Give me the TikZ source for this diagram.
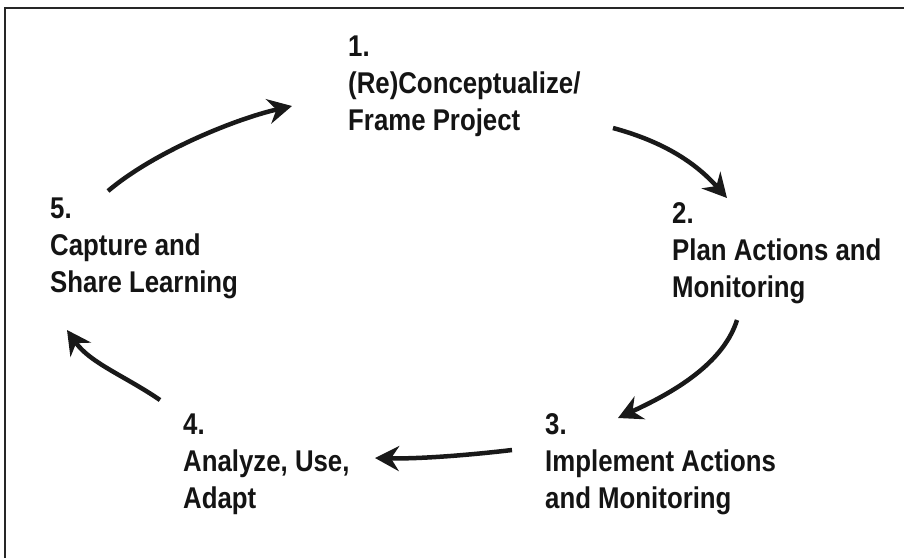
\documentclass[tikz,border=0pt]{standalone}
\usepackage{fontspec}
\newfontfamily\lblfont[FakeStretch=0.86]{Liberation Sans}
\usetikzlibrary{arrows.meta}
\begin{document}
\begin{tikzpicture}[x=1pt,y=-1pt,
  lbl/.style={anchor=base west,align=left,inner sep=0pt,text=black!92,
    font=\lblfont\bfseries\fontsize{30}{37}\selectfont},
  cyc/.style={line width=4.5pt,color=black!90,
    -{Stealth[length=24pt,width=25pt,inset=8pt]}},
  frame/.style={line width=1.6pt,color=black!85}]
\useasboundingbox (0,0) rectangle (904,558);
\draw[frame] (5,558) -- (5,8) -- (904,8);
% labels (anchored at the baseline of their last line)
\node[lbl] (s1) at (348,130) {1.\\(Re)Conceptualize/\\Frame Project};
\node[lbl] (s2) at (672,297) {2.\\Plan Actions and\\Monitoring};
\node[lbl] (s3) at (545,508) {3.\\Implement Actions\\and Monitoring};
\node[lbl] (s4) at (183,508) {4.\\Analyze, Use,\\Adapt};
\node[lbl] (s5) at (50,292) {5.\\Capture and\\Share Learning};
% arrow ends
\coordinate (a1s) at (108,191); \coordinate (a1e) at (292,106);
\coordinate (a2s) at (613,128); \coordinate (a2e) at (727,198);
\coordinate (a3s) at (737,320); \coordinate (a3e) at (618,418);
\coordinate (a4s) at (512,450); \coordinate (a4e) at (375,458);
\coordinate (a5s) at (160,400); \coordinate (a5e) at (67,330);
\draw[cyc] (a1s) .. controls (154,152) and (235,119) .. (a1e);
\draw[cyc] (a2s) .. controls (661,141) and (694,161) .. (a2e);
\draw[cyc] (a3s) .. controls (722,368) and (663,397) .. (a3e);
\draw[cyc] (a4s) .. controls (470,455) and (420,459) .. (a4e);
\draw[cyc] (a5s) .. controls (125,376) and (90,363) .. (a5e);
\end{tikzpicture}
\end{document}
